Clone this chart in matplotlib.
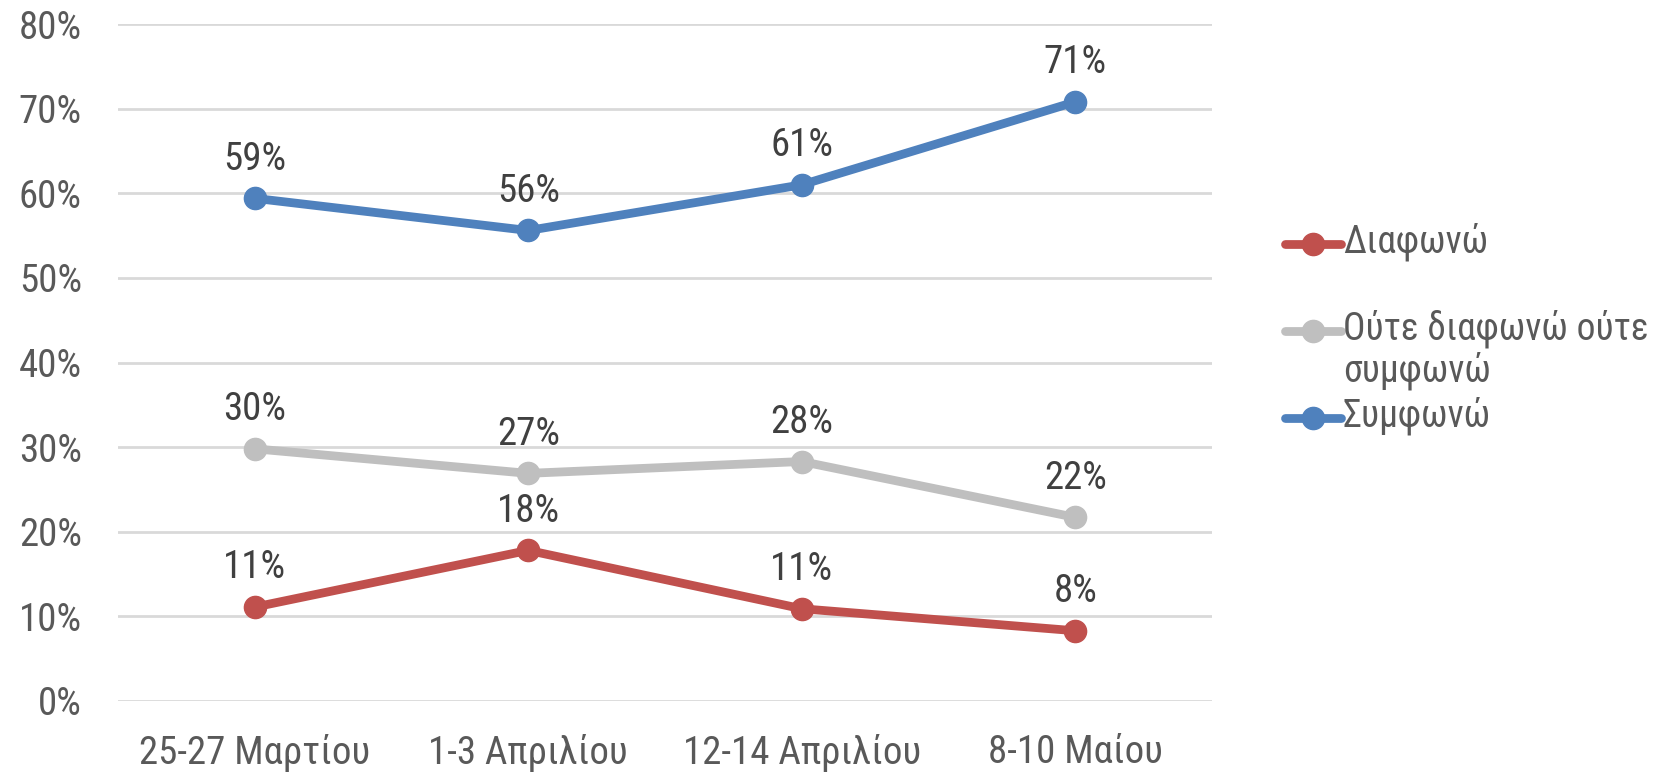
import matplotlib
matplotlib.use("Agg")
import matplotlib.pyplot as plt
from matplotlib import font_manager
from matplotlib.lines import Line2D

categories = ["25-27 Μαρτίου", "1-3 Απριλίου", "12-14 Απριλίου", "8-10 Μαίου"]
disagree = [11.1, 17.8, 10.9, 8.3]
neutral = [29.8, 26.9, 28.3, 21.7]
agree = [59.4, 55.6, 61.0, 70.8]
labels = ["Διαφωνώ", "Ούτε διαφωνώ ούτε\nσυμφωνώ", "Συμφωνώ"]
yticks = [0, 10, 20, 30, 40, 50, 60, 70, 80]

names = {f.name for f in font_manager.fontManager.ttflist}
family = "DejaVu Sans"
for cand in ["Liberation Sans Narrow", "Roboto Condensed", "Open Sans Condensed", "Roboto"]:
    if cand in names:
        family = cand
        break
plt.rcParams["font.family"] = [family, "DejaVu Sans"]

colors = ["#C0504D", "#BFBFBF", "#4F81BD"]
txt = "#595959"
lbl = "#404040"
fs = 28

fig = plt.figure(figsize=(16.65, 7.75), dpi=100)
ax = fig.add_axes([0.0709, 0.0955, 0.657, 0.8735])

x = list(range(len(categories)))
for series, c in zip([disagree, neutral, agree], colors):
    ax.plot(x, series, color=c, lw=6.3, marker="o", ms=16, solid_capstyle="round")
    for xi, v in zip(x, series):
        ax.annotate(f"{v:.0f}%", (xi, v), xytext=(0, 15), textcoords="offset points",
                    ha="center", va="bottom", fontsize=fs, color=lbl)

ax.set_xlim(-0.5, len(categories) - 0.5)
ax.set_ylim(0, 80)
ax.set_yticks(yticks)
ax.set_yticklabels([f"{t}%" for t in yticks])
ax.set_xticks(x)
ax.set_xticklabels(categories)
ax.tick_params(axis="both", length=0, labelsize=fs, colors=txt)
ax.tick_params(axis="x", pad=24)
ax.tick_params(axis="y", pad=26)
ax.grid(axis="y", color="#D9D9D9", lw=2)
ax.set_axisbelow(True)
for s in ax.spines.values():
    s.set_visible(False)

# legend drawn by hand so the marker sits on the first line of the wrapped label
leg_x0, leg_x1, leg_tx = 0.7715, 0.8055, 0.8065
leg_y, leg_step = 0.685, 0.1125
for i, (c, name) in enumerate(zip(colors, labels)):
    yy = leg_y - i * leg_step
    fig.add_artist(Line2D([leg_x0, leg_x1], [yy, yy], transform=fig.transFigure,
                          color=c, lw=6.3, solid_capstyle="round"))
    fig.add_artist(Line2D([(leg_x0 + leg_x1) / 2], [yy], transform=fig.transFigure,
                          color=c, marker="o", ms=16))
    fig.text(leg_tx, yy + 0.028, name, fontsize=27, color=txt, va="top", ha="left",
             linespacing=1.1)

fig.savefig("out.png", dpi=100)
